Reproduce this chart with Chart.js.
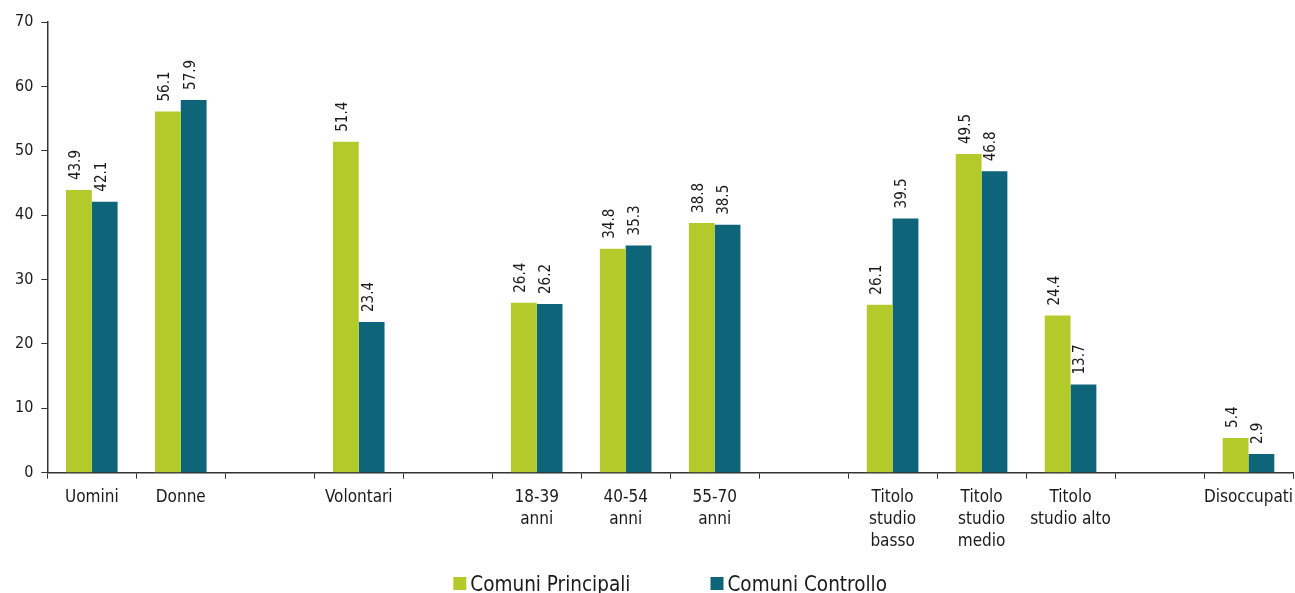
<!DOCTYPE html>
<html>
<head>
<meta charset="utf-8">
<script src="https://cdn.jsdelivr.net/npm/chart.js@4"></script>
<style>
  html, body { margin: 0; padding: 0; background: #fff; }
  #wrap { width: 1295px; height: 593px; position: relative; }
</style>
</head>
<body>
<div id="wrap"><canvas id="myBarChart"></canvas></div>
<script>
const categories = [
    "Uomini", "Donne", "", "Volontari", "",
    ["18-39", "anni"], ["40-54", "anni"], ["55-70", "anni"], "",
    ["Titolo", "studio", "basso"], ["Titolo", "studio", "medio"], ["Titolo", "studio alto"], "",
    "Disoccupati"
];
const principali = [43.9, 56.1, null, 51.4, null, 26.4, 34.8, 38.8, null, 26.1, 49.5, 24.4, null, 5.4];
const controllo  = [42.1, 57.9, null, 23.4, null, 26.2, 35.3, 38.5, null, 39.5, 46.8, 13.7, null, 2.9];
const yTicks = [0, 10, 20, 30, 40, 50, 60, 70];

const fontName = "'DejaVu Sans Condensed', 'DejaVu Sans', sans-serif";
const textCol = "#1a1a1a";

// labels drawn vertically on top of each bar
const barLabels = {
    id: "barLabels",
    afterDatasetsDraw(chart) {
        const ctx = chart.ctx;
        ctx.save();
        ctx.font = "15px " + fontName;
        ctx.fillStyle = textCol;
        ctx.textAlign = "left";
        ctx.textBaseline = "middle";
        chart.data.datasets.forEach((ds, i) => {
            const meta = chart.getDatasetMeta(i);
            meta.data.forEach((bar, j) => {
                const v = ds.data[j];
                if (v === null) return;
                ctx.save();
                ctx.translate(bar.x - 3, bar.y - 10);
                ctx.rotate(-Math.PI / 2);
                ctx.fillText(v.toFixed(1), 0, 0);
                ctx.restore();
            });
        });
        ctx.restore();
    }
};

// legend at the very bottom, centred under the plot
const bottomLegend = {
    id: "bottomLegend",
    afterDraw(chart) {
        const ctx = chart.ctx;
        const area = chart.chartArea;
        ctx.save();
        ctx.font = "20.5px " + fontName;
        ctx.textBaseline = "alphabetic";
        const box = 13, gap = 4, spacing = 80;
        const items = chart.data.datasets.map(ds => ({ text: ds.label, col: ds.backgroundColor, w: ctx.measureText(ds.label).width }));
        let total = 0;
        items.forEach((it, k) => { total += box + gap + it.w + (k ? spacing : 0); });
        let x = (area.left + area.right) / 2 - total / 2;
        items.forEach(it => {
            ctx.fillStyle = it.col;
            ctx.fillRect(x, 577, box, box);
            ctx.fillStyle = textCol;
            ctx.fillText(it.text, x + box + gap, 591);
            x += box + gap + it.w + spacing;
        });
        ctx.restore();
    }
};

const ctx = document.getElementById("myBarChart").getContext("2d");
let chart = new Chart(ctx, {
    type: "bar",
    data: {
        labels: categories,
        datasets: [
            {
                label: "Comuni Principali",
                data: principali,
                backgroundColor: "#b2cb2b",
                barPercentage: 1,
                categoryPercentage: 0.58
            },
            {
                label: "Comuni Controllo",
                data: controllo,
                backgroundColor: "#0e6478",
                barPercentage: 1,
                categoryPercentage: 0.58
            }
        ]
    },
    options: {
        responsive: true,
        maintainAspectRatio: false,
        animation: false,
        layout: { padding: { left: 7, right: 2, top: 22, bottom: 32 } },
        plugins: {
            tooltip: { enabled: false },
            legend: { display: false }
        },
        scales: {
            x: {
                afterFit(scale) { scale.paddingRight = 0; },
                grid: { drawOnChartArea: false, tickLength: 6, color: "#333", offset: true },
                border: { color: "#333", width: 1.5 },
                ticks: {
                    font: { family: fontName, size: 17, lineHeight: 1.3 },
                    color: textCol,
                    maxRotation: 0,
                    autoSkip: false,
                    padding: 8
                }
            },
            y: {
                min: 0,
                max: 70,
                afterBuildTicks(axis) {
                    axis.ticks = yTicks.map(v => ({ value: v }));
                },
                grid: { drawOnChartArea: false, tickLength: 6, color: "#333" },
                border: { color: "#333", width: 1.5 },
                ticks: {
                    font: { family: fontName, size: 16 },
                    color: textCol,
                    padding: 8
                }
            }
        }
    },
    plugins: [barLabels, bottomLegend]
});
</script>
</body>
</html>
